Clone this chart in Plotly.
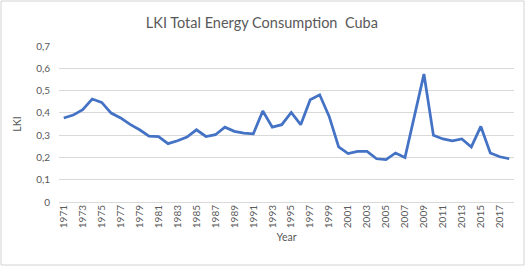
import plotly.graph_objects as go

years = list(range(1971, 2019))
lki = [0.377, 0.390, 0.414, 0.462, 0.447, 0.399, 0.377, 0.348, 0.324, 0.296,
       0.293, 0.262, 0.275, 0.291, 0.324, 0.294, 0.302, 0.336, 0.317, 0.309,
       0.306, 0.408, 0.336, 0.347, 0.402, 0.347, 0.459, 0.481, 0.384, 0.247,
       0.217, 0.227, 0.227, 0.194, 0.190, 0.220, 0.200, 0.385, 0.574, 0.299,
       0.283, 0.274, 0.283, 0.247, 0.339, 0.220, 0.203, 0.194]
y_ticks = [0, 0.1, 0.2, 0.3, 0.4, 0.5, 0.6, 0.7]
x_ticks = list(range(1971, 2019, 2))

W, H = 529, 268
ml, mr, mt, mb = 59, 15, 46, 66

fig = go.Figure()
fig.add_trace(go.Scatter(x=years, y=lki, mode="lines",
                         line=dict(color="#4472C4", width=2.75),
                         hoverinfo="x+y"))

font = "Lato, 'Open Sans', sans-serif"
fig.update_layout(
    width=W, height=H,
    margin=dict(l=ml, r=mr, t=mt, b=mb, autoexpand=False),
    paper_bgcolor="white", plot_bgcolor="white",
    separators=", ",
    showlegend=False,
    font=dict(family=font, color="#595959", size=10),
    title=dict(text="LKI Total Energy Consumption  Cuba", x=0.495, xanchor="center",
               y=1 - 23 / H, yanchor="middle",
               font=dict(size=14.5, color="#595959", family=font)),
    xaxis=dict(range=[1970.5, 2018.5], tickmode="array", tickvals=x_ticks,
               ticktext=[str(v) for v in x_ticks], tickangle=-90, automargin=False,
               showgrid=False, zeroline=False, showline=False, ticks="",
               tickfont=dict(size=10, color="#595959"),
               title=dict(text="Year", standoff=6, font=dict(size=10.5, color="#595959"))),
    yaxis=dict(range=[0, 0.7], tickmode="array", tickvals=y_ticks, automargin=False,
               ticktext=[("0" if v == 0 else f"{v:.1f}".replace(".", ",")) for v in y_ticks],
               showgrid=True, gridcolor="#D9D9D9", gridwidth=1, zeroline=True,
               zerolinecolor="#D9D9D9", zerolinewidth=1, ticks="",
               tickfont=dict(size=10, color="#595959"), ticklabelstandoff=8,
               title=dict(text="LKI", standoff=12, font=dict(size=10.5, color="#595959"))),
)

pw = W - ml - mr
ph = H - mt - mb
# outer chart frame (pixel positions converted to paper coordinates)
fx0, fx1, fy0, fy1 = 1, 524, 1, 265
fig.add_shape(type="rect", xref="paper", yref="paper",
              x0=(fx0 - ml) / pw, x1=(fx1 - ml) / pw,
              y0=(H - mb - fy1) / ph, y1=(H - mb - fy0) / ph,
              line=dict(color="#D3D3D3", width=1), layer="above")

fig.write_html("out.html", config={"displayModeBar": False},
               post_script="document.body.style.margin='0';document.body.style.overflow='hidden';")
